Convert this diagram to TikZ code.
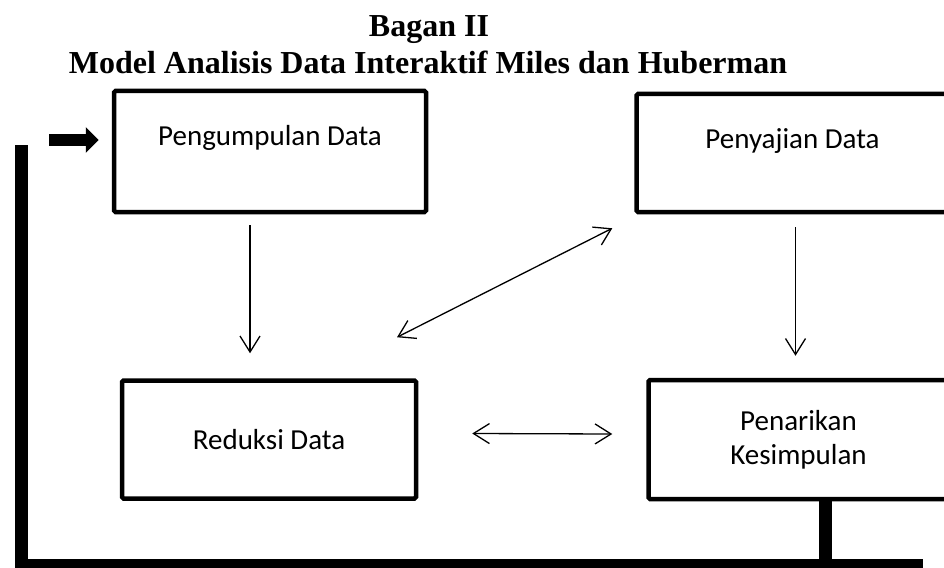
\documentclass[tikz,border=0pt]{standalone}
\usepackage{fontspec}
\setmainfont{Liberation Serif}
\newfontfamily\kotakfont{Carlito}
\usetikzlibrary{arrows.meta,positioning}

\begin{document}
\begin{tikzpicture}[x=1pt, y=-1pt,
		judul/.style  = {anchor=base, inner sep=0pt, font=\fontsize{32}{38}\selectfont\bfseries},
		kotak/.style  = {draw, line width=4.5pt, rounded corners=1.5pt, align=center, font=\kotakfont\fontsize{29}{34}\selectfont},
		atas/.style   = {text height=20pt, text depth=#1},
		panah/.style  = {line width=1.3pt, -{Straight Barb[length=16pt,width=20pt]}},
		duapanah/.style = {line width=1.3pt, {Straight Barb[length=16pt,width=20pt]}-{Straight Barb[length=16pt,width=20pt]}},
		tebal/.style  = {line width=13pt},
		panahtebal/.style = {line width=12pt, -{Triangle[length=13pt,width=25pt]}}]
		
		\useasboundingbox (0,0) rectangle (944,567);
		
		% judul bagan
		\node[judul] (t1) at (429,37) {Bagan II};
		\node[judul] (t2) at (428,74) {Model Analisis Data Interaktif Miles dan Huberman};
		
		% empat komponen analisis
		\node[kotak, atas=33pt, minimum width=312pt, minimum height=121pt] (kumpul) at (270,151.5) {Pengumpulan Data};
		\node[kotak, atas=30pt, minimum width=312pt, minimum height=118pt, right=206pt of kumpul, yshift=-1.5pt] (saji) {Penyajian Data};
		\node[kotak, minimum width=294pt, minimum height=118pt, below=164pt of kumpul, xshift=-1pt] (reduksi) {Reduksi Data};
		\node[kotak, minimum width=300pt, minimum height=119pt, right=228pt of reduksi] (tarik) {Penarikan\\Kesimpulan};
		
		% garis balik dari kesimpulan
		\coordinate (ujung) at (21,145);
		\coordinate (sudut) at (21,565);
		\coordinate (akhir) at (923,565);
		\coordinate (masuk) at (49,140);
		
		\draw[tebal] (ujung) -- (sudut) -- (akhir);
		\draw[tebal] ([xshift=27pt]tarik.south) -- ([xshift=27pt]tarik.south |- sudut);
		\draw[panahtebal] (masuk) -- ([xshift=-13pt]masuk -| kumpul.west);
		
		% panah antar komponen
		\draw[panah] ([xshift=-20pt,yshift=-11pt]kumpul.south) -- ([xshift=-19pt,yshift=25pt]reduksi.north);
		\draw[panah] ([xshift=3pt,yshift=-13pt]saji.south) -- ([xshift=-3pt,yshift=22pt]tarik.north);
		\draw[duapanah] ([xshift=128pt,yshift=41pt]reduksi.north) -- ([xshift=-22pt,yshift=-14pt]saji.south west);
		\draw[duapanah] ([xshift=54pt,yshift=6pt]reduksi.east) -- ([xshift=-34pt,yshift=5.5pt]tarik.west);
		
\end{tikzpicture}
\end{document}
